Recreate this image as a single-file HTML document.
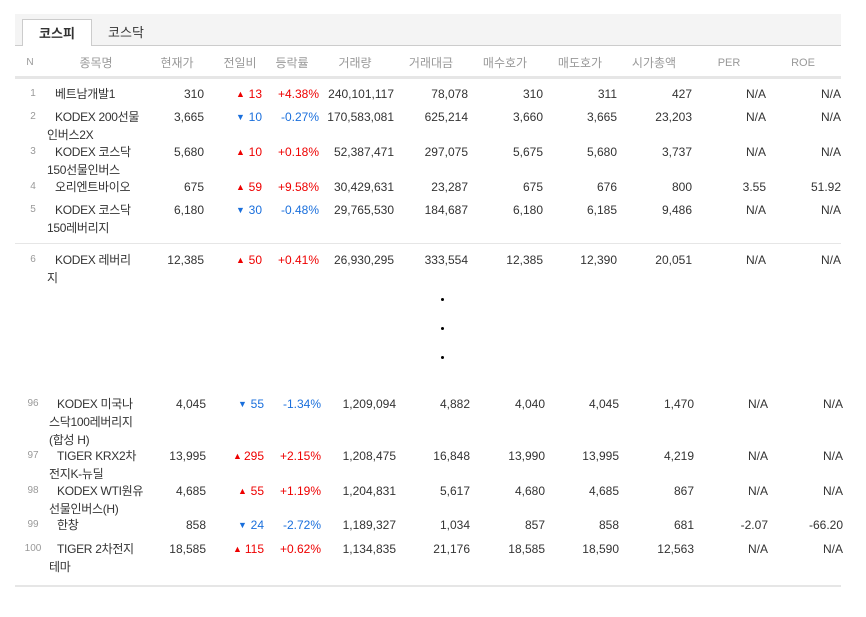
<!DOCTYPE html>
<html><head><meta charset="utf-8">
<style>
body{margin:0;width:866px;height:617px;background:#fff;font-family:"Liberation Sans","Noto Sans CJK KR",sans-serif;font-size:12px;color:#333;position:relative;overflow:hidden}
.abs{position:absolute;white-space:nowrap}
#tabbar{position:absolute;left:15px;top:14px;width:826px;height:31px;background:#f4f4f4;border-bottom:1px solid #ccc}
.tab{position:absolute;top:19px;height:26px;line-height:28px;font-size:13px;text-align:center}
.hd{position:absolute;top:56px;color:#999;font-size:12px;transform:translateX(-50%);line-height:14px}
.num{position:absolute;text-align:right;line-height:18px}
.nm{position:absolute;left:47px;line-height:18px;white-space:nowrap;letter-spacing:-0.3px}
.nm span{display:block}
.nm span:first-child{padding-left:8px}
.idx{position:absolute;width:30px;left:18px;text-align:center;font-size:10px;color:#999;line-height:18px}
.up{color:#e00}.dn{color:#1a6fdc}
.hr{position:absolute;left:15px;width:826px;background:#e6e6e6}
.dot{position:absolute;left:441px;width:3px;height:3px;background:#000;border-radius:50%}
</style></head><body>
<div id="tabbar"></div>
<div class="tab" style="left:22px;width:68px;background:#fff;border:1px solid #ccc;border-bottom:none;font-weight:bold">코스피</div>
<div class="tab" style="left:92px;width:68px">코스닥</div>
<div id="head"></div>
<div class="hr" style="top:76px;height:3px"></div>
<div class="hr" style="top:243px;height:1px"></div>
<div class="hr" style="top:585px;height:2px"></div>
<div class="dot" style="top:298px"></div>
<div class="dot" style="top:327px"></div>
<div class="dot" style="top:356px"></div>
<div id="rows"></div>
<script>
const headers=["N","종목명","현재가","전일비","등락률","거래량","거래대금","매수호가","매도호가","시가총액","PER","ROE"];
const headerX=[30,96,177,240,292,355,431,505,580,654,729,803];
const ranks=[1,2,3,4,5,6,96,97,98,99,100];
const names=["베트남개발1","KODEX 200선물|인버스2X","KODEX 코스닥|150선물인버스","오리엔트바이오","KODEX 코스닥|150레버리지","KODEX 레버리|지","KODEX 미국나|스닥100레버리지|(합성 H)","TIGER KRX2차|전지K-뉴딜","KODEX WTI원유|선물인버스(H)","한창","TIGER 2차전지|테마"];
const prices=["310","3,665","5,680","675","6,180","12,385","4,045","13,995","4,685","858","18,585"];
const changes=[13,-10,10,59,-30,50,-55,295,55,-24,115];
const rates=["+4.38%","-0.27%","+0.18%","+9.58%","-0.48%","+0.41%","-1.34%","+2.15%","+1.19%","-2.72%","+0.62%"];
const volumes=["240,101,117","170,583,081","52,387,471","30,429,631","29,765,530","26,930,295","1,209,094","1,208,475","1,204,831","1,189,327","1,134,835"];
const amounts=["78,078","625,214","297,075","23,287","184,687","333,554","4,882","16,848","5,617","1,034","21,176"];
const bids=["310","3,660","5,675","675","6,180","12,385","4,040","13,990","4,680","857","18,585"];
const asks=["311","3,665","5,680","676","6,185","12,390","4,045","13,995","4,685","858","18,590"];
const caps=["427","23,203","3,737","800","9,486","20,051","1,470","4,219","867","681","12,563"];
const pers=["N/A","N/A","N/A","3.55","N/A","N/A","N/A","N/A","N/A","-2.07","N/A"];
const roes=["N/A","N/A","N/A","51.92","N/A","N/A","N/A","N/A","N/A","-66.20","N/A"];
const rowY=[85,108,143,178,201,251,395,447,482,516,540];
const head=document.getElementById('head');
headers.forEach((h,i)=>{const d=document.createElement('div');d.className='hd';d.style.left=headerX[i]+'px';d.textContent=h;


if(i==0)d.style.fontSize='10px';
if(i>=10)d.style.fontSize='11px';head.appendChild(d);});
const rows=document.getElementById('rows');
const rights=[204,262,319,394,468,543,617,692,766,841];
function cell(parent,txt,right,cls,name){const d=document.createElement('div');d.className='num '+(cls||'');d.style.right=(866-right)+'px';d.textContent=txt;


parent.appendChild(d);return d;}
ranks.forEach((r,i)=>{
 const row=document.createElement('div');row.className='abs';row.style.left='0';row.style.top=rowY[i]+'px';row.style.width='866px';
 
 
 const off=i>=6?2:0;
 const idx=document.createElement('div');idx.className='idx';idx.textContent=r;
 
 
 row.appendChild(idx);
 const nm=document.createElement('div');nm.className='nm';nm.style.left=(47+off)+'px';
 
 
 names[i].split('|').forEach(p=>{const s=document.createElement('span');s.textContent=p;nm.appendChild(s);});
 row.appendChild(nm);
 const c=changes[i],cls=c>=0?'up':'dn';
 cell(row,prices[i],rights[0]+off,'','price');
 cell(row,Math.abs(c),rights[1]+off,cls,'change');
 const t=document.createElement('div');t.className='abs '+cls;t.style.left=(String(Math.abs(c)).length>2?231:236)+off+'px';t.style.top='0';t.style.lineHeight='18px';t.style.fontSize='9px';t.textContent=c>=0?'▲':'▼';
 
 
 row.appendChild(t);
 cell(row,rates[i],rights[2]+off,cls,'change-rate');
 cell(row,volumes[i],rights[3]+off,'','volume');
 cell(row,amounts[i],rights[4]+off,'','trade-amount');
 cell(row,bids[i],rights[5]+off,'','bid-price');
 cell(row,asks[i],rights[6]+off,'','ask-price');
 cell(row,caps[i],rights[7]+off,'','market-cap');
 cell(row,pers[i],rights[8]+off,'','per');
 cell(row,roes[i],rights[9]+off,'','roe');
 rows.appendChild(row);
});
</script>
</body></html>
